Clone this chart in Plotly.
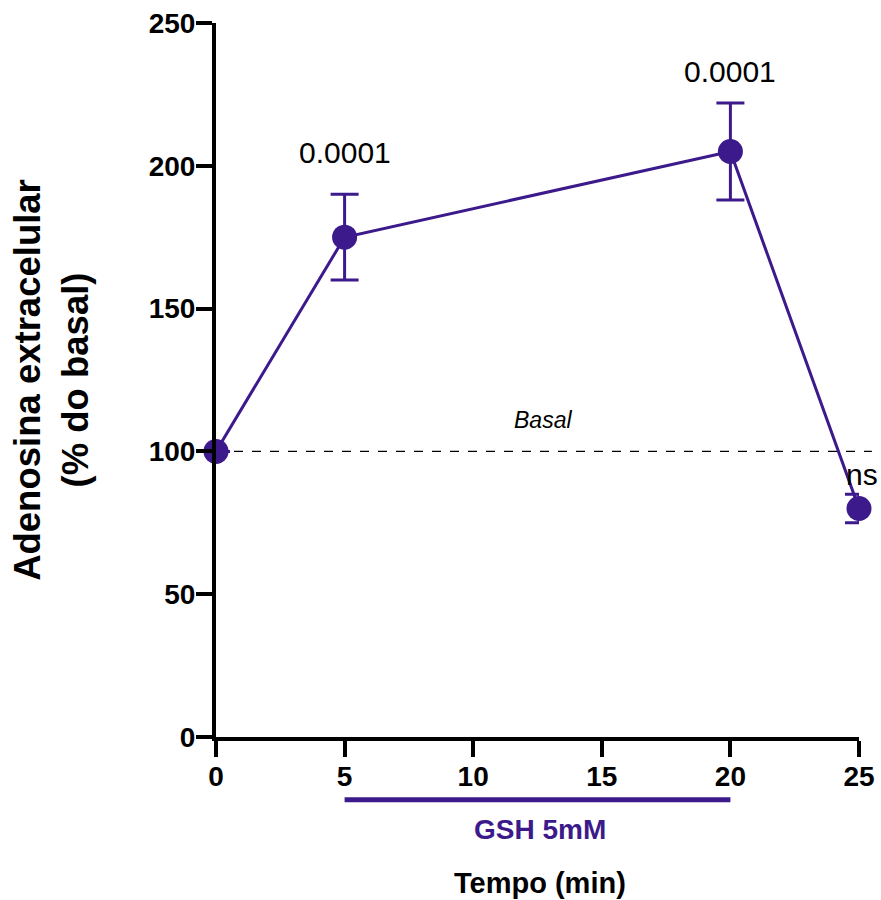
import plotly.graph_objects as go

# Data
tempo = [0, 5, 20, 25]
adenosina = [100, 175, 205, 80]
erro = [0, 15, 17, 5]
basal_level = 100
gsh_inicio, gsh_fim = 5, 20
p_labels = ["", "0.0001", "0.0001", "ns"]
x_ticks = [0, 5, 10, 15, 20, 25]
y_ticks = [0, 50, 100, 150, 200, 250]

PURPLE = "#3C1A8C"
FONT = "Liberation Sans, Arial, sans-serif"

fig = go.Figure()

fig.add_trace(go.Scatter(
    x=tempo, y=adenosina,
    mode="lines+markers",
    line=dict(color=PURPLE, width=3),
    marker=dict(color=PURPLE, size=25),
    error_y=dict(type="data", array=erro, visible=True, color=PURPLE,
                 thickness=3, width=14),
    cliponaxis=False,
    showlegend=False,
))

# basal dashed reference line (extends a bit beyond the x axis)
fig.add_shape(type="line", xref="paper", yref="y", x0=0, x1=1.02,
              y0=basal_level, y1=basal_level,
              line=dict(color="black", width=1.3, dash="dash"), layer="below")

# GSH bar below the axis
fig.add_shape(type="line", xref="x", yref="paper", x0=gsh_inicio, x1=gsh_fim,
              y0=-0.088, y1=-0.088,
              line=dict(color=PURPLE, width=5))

annotations = [
    dict(x=12.7, y=111, xref="x", yref="y", text="<i>Basal</i>", showarrow=False,
         font=dict(family=FONT, size=23, color="black")),
    dict(x=5, y=204.8, xref="x", yref="y", text=p_labels[1], showarrow=False,
         font=dict(family=FONT, size=30, color="black")),
    dict(x=20, y=233, xref="x", yref="y", text=p_labels[2], showarrow=False,
         font=dict(family=FONT, size=30, color="black")),
    dict(x=25, y=92, xref="x", yref="y", text=p_labels[3], showarrow=False, xshift=3,
         font=dict(family=FONT, size=30, color="black")),
    dict(x=12.6, y=-0.129, xref="x", yref="paper", text="<b>GSH 5mM</b>", showarrow=False,
         yanchor="middle", font=dict(family=FONT, size=28, color=PURPLE)),
    dict(x=12.6, y=-0.205, xref="x", yref="paper", text="<b>Tempo (min)</b>", showarrow=False,
         yanchor="middle", font=dict(family=FONT, size=29, color="black")),
]
fig.update_layout(annotations=annotations)

fig.update_layout(
    width=881, height=900,
    margin=dict(l=216, r=22, t=23, b=163, autoexpand=False),
    paper_bgcolor="white", plot_bgcolor="white",
    font=dict(family=FONT, color="black"),
    xaxis=dict(
        range=[0, 25], tickvals=x_ticks, ticktext=[f"<b>{v}</b>" for v in x_ticks],
        showgrid=False, zeroline=False, showline=True, linecolor="black", linewidth=4,
        ticks="outside", ticklen=16, tickwidth=4, tickcolor="black",
        tickfont=dict(family=FONT, size=28, color="black"), automargin=False,
        ticklabeloverflow="allow", ticklabelstandoff=-5,
    ),
    yaxis=dict(
        range=[0, 250], tickvals=y_ticks, ticktext=[f"<b>{v}</b>" for v in y_ticks],
        showgrid=False, zeroline=False, showline=True, linecolor="black", linewidth=4,
        ticks="outside", ticklen=16, tickwidth=4, tickcolor="black",
        tickfont=dict(family=FONT, size=28, color="black"), automargin=False,
        ticklabeloverflow="allow", ticklabelstandoff=-5,
        title=dict(text="<b>Adenosina extracelular<br>(% do basal)</b>",
                   font=dict(family=FONT, size=36.5, color="black"), standoff=50),
    ),
)

fig.write_html(
    "out.html",
    config={"displayModeBar": False},
    post_script="document.body.style.margin='0';document.body.style.overflow='hidden';",
)
